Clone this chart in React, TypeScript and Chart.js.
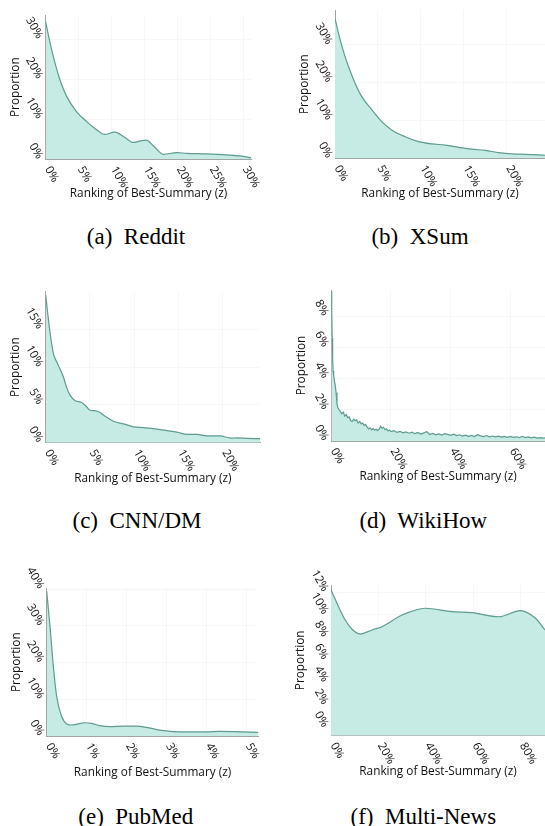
import React, { useEffect, useRef } from "react";
import { Chart, registerables } from "chart.js";

Chart.register(...registerables);

// ---------- data ----------
const redditZ = [0, 0.7, 1.45, 2.2, 3.2, 4.7, 6.25, 7.8, 9.0, 10.5, 12.0, 13.3, 14.4, 15.3, 16.4, 17.9, 19.9, 21.4, 24.5, 27.5, 29.5, 31.25];
const redditP = [34.4, 29.0, 24.0, 19.8, 15.7, 11.9, 9.4, 7.3, 6.2, 6.8, 5.5, 4.2, 4.6, 4.8, 3.3, 1.25, 1.65, 1.5, 1.35, 1.1, 0.85, 0.35];
const redditXTicks = [0, 5, 10, 15, 20, 25, 30];
const redditYTicks = [0, 10, 20, 30];

const xsumZ = [0, 0.4, 0.99, 1.57, 2.35, 3.12, 4.3, 5.45, 6.6, 8.17, 9.73, 11.28, 12.84, 14.4, 15.9, 17.5, 19.05, 20.6, 22.1, 23.7, 24.45];
const xsumP = [37.0, 33.1, 28.2, 24.25, 19.8, 16.3, 12.8, 9.7, 7.5, 5.7, 4.4, 3.8, 3.5, 2.9, 2.4, 2.1, 1.5, 1.15, 1.05, 0.9, 0.8];
const xsumXTicks = [0, 5, 10, 15, 20];
const xsumYTicks = [0, 10, 20, 30];

const cnnZ = [0, 0.23, 0.5, 0.87, 1.25, 1.6, 2.0, 2.4, 2.75, 3.3, 4.1, 4.6, 5.0, 5.5, 6.0, 6.6, 7.7, 8.8, 9.9, 11.05, 12.6, 13.7, 14.8, 16.0, 17.1, 18.2, 19.7, 20.9, 21.6, 22.75, 24.2];
const cnnP = [19.6, 17.1, 14.5, 11.8, 10.7, 9.8, 8.7, 7.2, 6.3, 5.6, 5.3, 4.8, 4.3, 4.25, 4.1, 3.6, 2.8, 2.5, 2.1, 2.0, 1.8, 1.6, 1.4, 1.1, 1.1, 0.9, 0.9, 0.6, 0.65, 0.57, 0.53];
const cnnXTicks = [0, 5, 10, 15, 20];
const cnnYTicks = [0, 5, 10, 15];

const wikiZ = [0, 0.15, 0.3, 0.45, 0.6, 0.8, 1.0, 1.3, 1.6, 1.9, 2.2, 2.6, 3.0, 3.5, 4.0, 4.5, 5.0, 5.5, 6.0, 6.5, 7.0, 7.5, 8.0, 8.5, 9.0, 9.5, 10, 10.5, 11, 11.5, 12, 12.5, 13, 13.5, 14, 14.5, 15, 15.5, 16, 16.5, 17, 17.5, 18, 18.5, 19, 19.5, 20, 21, 22, 23, 24, 25, 26, 27, 28, 29, 30, 31, 32, 33, 34, 35, 36, 37, 38, 39, 40, 41, 42, 43, 44, 45, 46, 47, 48, 49, 50, 51, 52, 53, 54, 55, 56, 57, 58, 59, 60, 61, 62, 63, 64, 65, 66, 67, 68, 69, 70, 71, 71.6];
const wikiP = [9.6, 8.2, 6.6, 5.3, 4.5, 4.2, 3.9, 3.6, 3.1, 2.4, 2.15, 2.0, 1.9, 1.75, 1.85, 1.6, 1.7, 1.5, 1.55, 1.3, 1.25, 1.4, 1.3, 1.35, 1.15, 1.25, 1.1, 1.15, 1.0, 1.05, 0.9, 0.78, 0.85, 0.72, 0.8, 0.7, 0.76, 0.66, 0.74, 0.95, 0.82, 0.88, 0.72, 0.78, 0.64, 0.7, 0.6, 0.66, 0.55, 0.62, 0.52, 0.58, 0.5, 0.56, 0.47, 0.55, 0.45, 0.52, 0.6, 0.42, 0.48, 0.4, 0.46, 0.38, 0.47, 0.42, 0.36, 0.44, 0.35, 0.4, 0.32, 0.38, 0.3, 0.36, 0.29, 0.4, 0.33, 0.28, 0.35, 0.27, 0.32, 0.26, 0.31, 0.25, 0.3, 0.24, 0.29, 0.23, 0.27, 0.22, 0.3, 0.22, 0.26, 0.2, 0.25, 0.19, 0.22, 0.18, 0.2];
const wikiXTicks = [0, 20, 40, 60];
const wikiYTicks = [0, 2, 4, 6, 8];

const pubmedZ = [0, 0.083, 0.167, 0.25, 0.375, 0.5, 0.625, 0.79, 0.96, 1.125, 1.33, 1.58, 1.92, 2.25, 2.5, 2.83, 3.17, 3.5, 4.0, 4.33, 4.67, 5.3];
const pubmedP = [39.4, 29.8, 18.9, 10.7, 5.3, 3.3, 3.0, 3.3, 3.6, 3.45, 2.8, 2.55, 2.7, 2.7, 2.35, 1.6, 1.2, 1.1, 1.1, 1.25, 1.2, 1.0];
const pubmedXTicks = [0, 1, 2, 3, 4, 5];
const pubmedYTicks = [0, 10, 20, 30, 40];

const multiZ = [0, 3.2, 6.0, 8.9, 12.4, 17.3, 21.5, 30, 39.8, 51.1, 59.6, 70.9, 80, 86.4, 90.4];
const multiP = [12.18, 10.7, 9.52, 8.7, 8.28, 8.64, 8.93, 9.96, 10.56, 10.26, 10.17, 9.81, 10.35, 9.67, 8.64];
const multiXTicks = [0, 20, 40, 60, 80];
const multiYTicks = [0, 2, 4, 6, 8, 10, 12];

const X_TITLE = "Ranking of Best-Summary (z)";
const Y_TITLE = "Proportion";

// ---------- style ----------
const FONT = "'Open Sans', 'Noto Sans', sans-serif";
const FILL = "#c5ebe4";
const LINE = "#5f9b90";
const AXIS = "#a3a3a3";
const GRID = "#f7f7f7";
const TEXT = "#111111";

type Rect = { x: number; y: number; w: number; h: number };
type Plot = { l: number; t: number; r: number; b: number };
type Cfg = {
  id: string;
  z: number[];
  p: number[];
  xTicks: number[];
  yTicks: number[];
  xMax: number;
  yMin: number;
  yMax: number;
  smooth: boolean;
  canvas: Rect;
  plot: Plot;
  caption: string;
  capX: number;
  capY: number;
  xTitleOff: number;
};

const colL = { x: 0, w: 272 };
const colR = { x: 272, w: 273 };
const row1 = { y: 0, h: 210 };
const row2 = { y: 270, h: 220 };
const row3 = { y: 555, h: 240 };

const panels: Cfg[] = [
  {
    id: "a", z: redditZ, p: redditP, xTicks: redditXTicks, yTicks: redditYTicks,
    xMax: 31.25, yMin: 0, yMax: 36, smooth: true,
    canvas: { ...colL, ...row1 }, plot: { l: 45.5, t: 15, r: 251.5, b: 159.3 },
    caption: "(a)  Reddit", capX: 136, capY: 236.5, xTitleOff: 34,
  },
  {
    id: "b", z: xsumZ, p: xsumP, xTicks: xsumXTicks, yTicks: xsumYTicks,
    xMax: 24.45, yMin: 0, yMax: 39.2, smooth: true,
    canvas: { ...colR, ...row1 }, plot: { l: 335, t: 10, r: 545, b: 158.3 },
    caption: "(b)  XSum", capX: 420, capY: 236.5, xTitleOff: 35,
  },
  {
    id: "c", z: cnnZ, p: cnnP, xTicks: cnnXTicks, yTicks: cnnYTicks,
    xMax: 24.2, yMin: 0, yMax: 20, smooth: true,
    canvas: { ...colL, ...row2 }, plot: { l: 45.7, t: 291.7, r: 260, b: 442.7 },
    caption: "(c)  CNN/DM", capX: 137, capY: 520.7, xTitleOff: 35.6,
  },
  {
    id: "d", z: wikiZ, p: wikiP, xTicks: wikiXTicks, yTicks: wikiYTicks,
    xMax: 71.6, yMin: 0, yMax: 9.68, smooth: false,
    canvas: { ...colR, ...row2 }, plot: { l: 331.3, t: 290, r: 545, b: 441 },
    caption: "(d)  WikiHow", capX: 423.3, capY: 520.7, xTitleOff: 35.7,
  },
  {
    id: "e", z: pubmedZ, p: pubmedP, xTicks: pubmedXTicks, yTicks: pubmedYTicks,
    xMax: 5.3, yMin: 0, yMax: 40.2, smooth: true,
    canvas: { ...colL, ...row3 }, plot: { l: 46.7, t: 588.3, r: 258.3, b: 736 },
    caption: "(e)  PubMed", capX: 135.8, capY: 817, xTitleOff: 37,
  },
  {
    id: "f", z: multiZ, p: multiP, xTicks: multiXTicks, yTicks: multiYTicks,
    xMax: 90.4, yMin: -0.72, yMax: 12.62, smooth: true,
    canvas: { ...colR, ...row3 }, plot: { l: 331, t: 585, r: 545, b: 735.7 },
    caption: "(f)  Multi-News", capX: 423.3, capY: 817, xTitleOff: 36,
  },
];

const labelPlugin = (cfg: Cfg) => ({
  id: "labels_" + cfg.id,
  afterDraw(chart: any) {
    const ctx: CanvasRenderingContext2D = chart.ctx;
    const xs = chart.scales.x;
    const ys = chart.scales.y;
    const a = chart.chartArea;
    const ang = (60 * Math.PI) / 180;
    ctx.save();
    ctx.fillStyle = TEXT;
    ctx.font = `11.5px ${FONT}`;
    for (const v of cfg.xTicks) {
      const px = xs.getPixelForValue(v);
      ctx.save();
      ctx.translate(px + 2, a.bottom + 8);
      ctx.rotate(ang);
      ctx.textAlign = "left";
      ctx.textBaseline = "middle";
      ctx.fillText(`${v}%`, 0, 0);
      ctx.restore();
    }
    for (const v of cfg.yTicks) {
      const py = ys.getPixelForValue(v);
      ctx.save();
      ctx.translate(a.left - 5.7, py - 1.3);
      ctx.rotate(ang);
      ctx.textAlign = "right";
      ctx.textBaseline = "middle";
      ctx.fillText(`${v}%`, 0, 0);
      ctx.restore();
    }
    ctx.font = `11.8px ${FONT}`;
    ctx.textAlign = "center";
    ctx.textBaseline = "middle";
    ctx.fillText(X_TITLE, (a.left + a.right) / 2, a.bottom + cfg.xTitleOff);
    ctx.save();
    ctx.translate(a.left - 30, (a.top + a.bottom) / 2);
    ctx.rotate(-Math.PI / 2);
    ctx.fillText(Y_TITLE, 0, 0);
    ctx.restore();
    ctx.restore();
  },
});

function PanelChart({ cfg }: { cfg: Cfg }) {
  const ref = useRef<HTMLCanvasElement>(null);
  useEffect(() => {
    const el = ref.current;
    if (!el) return;
    const cv = cfg.canvas;
    const pl = cfg.plot;
    const chart = new Chart(el, {
      type: "line",
      data: {
        datasets: [
          {
            data: cfg.z.map((x, i) => ({ x, y: cfg.p[i] })),
            fill: "start",
            backgroundColor: FILL,
            borderColor: LINE,
            borderWidth: 1.2,
            pointRadius: 0,
            tension: 0,
            cubicInterpolationMode: cfg.smooth ? "monotone" : "default",
          } as any,
        ],
      },
      options: {
        animation: false,
        responsive: false,
        maintainAspectRatio: false,
        events: [],
        layout: {
          padding: {
            left: pl.l - cv.x,
            top: pl.t - cv.y,
            right: cv.x + cv.w - pl.r,
            bottom: cv.y + cv.h - pl.b,
          },
        },
        plugins: { legend: { display: false }, tooltip: { enabled: false } },
        scales: {
          x: {
            type: "linear",
            min: 0,
            max: cfg.xMax,
            ticks: { display: false },
            grid: { color: GRID, drawTicks: false },
            border: { color: AXIS, width: 1 },
            afterBuildTicks: (s: any) => {
              s.ticks = cfg.xTicks.map((v) => ({ value: v }));
            },
            afterFit: (s: any) => {
              s.height = 0;
            },
          },
          y: {
            type: "linear",
            min: cfg.yMin,
            max: cfg.yMax,
            ticks: { display: false },
            grid: { color: GRID, drawTicks: false },
            border: { color: AXIS, width: 1 },
            afterBuildTicks: (s: any) => {
              s.ticks = cfg.yTicks.map((v) => ({ value: v }));
            },
            afterFit: (s: any) => {
              s.width = 0;
            },
          },
        },
      } as any,
      plugins: [labelPlugin(cfg)],
    });
    return () => chart.destroy();
  }, [cfg]);
  const cv = cfg.canvas;
  return (
    <canvas
      ref={ref}
      width={cv.w}
      height={cv.h}
      style={{ position: "absolute", left: cv.x, top: cv.y, width: cv.w, height: cv.h }}
    />
  );
}

export default function App() {
  return (
    <div
      style={{
        position: "absolute",
        left: 0,
        top: 0,
        width: 545,
        height: 826,
        overflow: "hidden",
        background: "#ffffff",
      }}
    >
      {panels.map((cfg) => (
        <React.Fragment key={cfg.id}>
          <PanelChart cfg={cfg} />
          <div
            style={{
              position: "absolute",
              left: cfg.capX - 120,
              width: 240,
              top: cfg.capY - 11.6,
              textAlign: "center",
              fontFamily: "'Liberation Serif', 'Times New Roman', serif",
              fontSize: 23,
              lineHeight: "23px",
              whiteSpace: "pre",
              color: "#000",
            }}
          >
            {cfg.caption}
          </div>
        </React.Fragment>
      ))}
    </div>
  );
}
